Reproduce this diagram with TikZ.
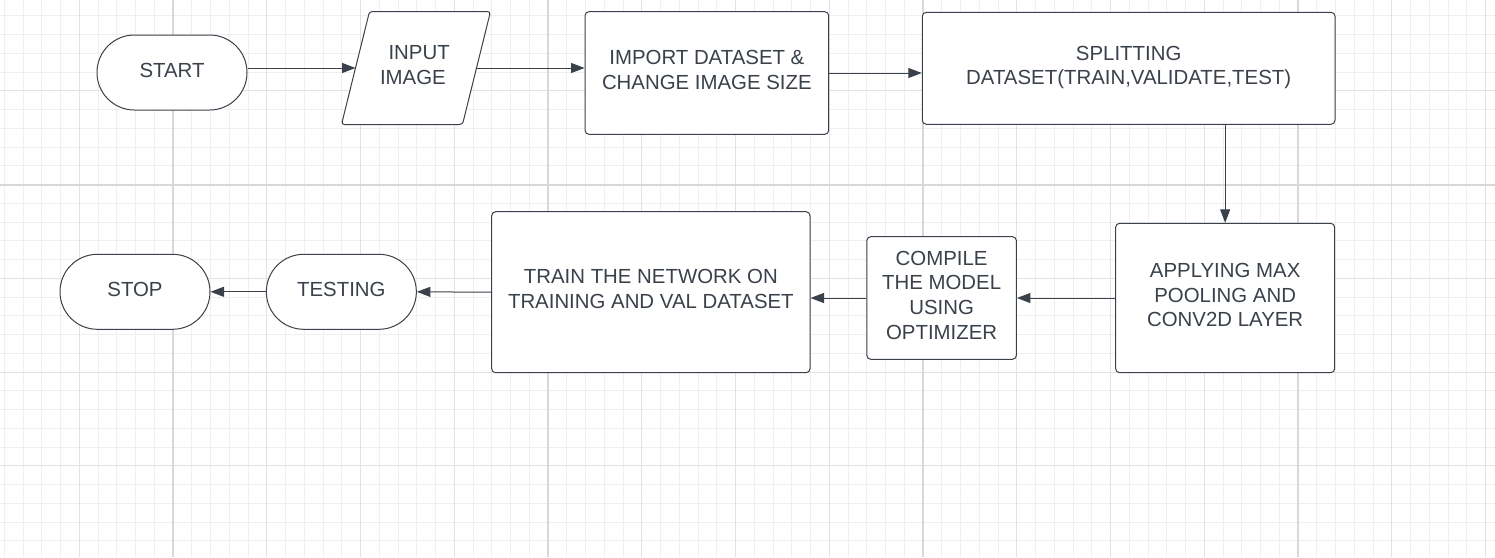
\documentclass[tikz,border=0pt]{standalone}
\usepackage{fontspec}
\setmainfont{Liberation Sans}
\usetikzlibrary{arrows.meta}
\definecolor{ink}{HTML}{3A414A}
\definecolor{gminor}{HTML}{EFEFEF}
\definecolor{gmed}{HTML}{E2E2E2}
\definecolor{gmajor}{HTML}{D8D8D8}
\tikzset{
  flow/.style={draw=ink, line width=1pt, text=ink, fill=white, inner sep=0pt,
    font=\fontsize{20.4}{24.7}\selectfont, align=center, text depth=6pt},
  boxnode/.style={flow, rectangle, rounded corners=4pt},
  term/.style={flow, rectangle, rounded corners=37.4pt, minimum width=150pt, minimum height=75pt, text depth=4.5pt},
  paratext/.style={flow, draw=none, fill=none, rectangle},
  paraedge/.style={draw=ink, line width=1pt, fill=white, rounded corners=3pt},
  conn/.style={draw=ink, line width=1pt, -{Triangle[length=13.5pt,width=10pt]}},
  gridminor/.style={draw=gminor, line width=1pt},
  gridmed/.style={draw=gmed, line width=1pt},
  gridmajor/.style={draw=gmajor, line width=1.6pt},
}
\begin{document}
\begin{tikzpicture}[x=1pt,y=-1pt]
\useasboundingbox (0,0) rectangle (1495,557);
\fill[white] (0,0) rectangle (1495,557);
% grid
\foreach \i in {0,...,79} \draw[gridminor] ({4.25+18.75*\i},0) -- ({4.25+18.75*\i},557);
\foreach \j in {0,...,30} \draw[gridminor] (0,{-2.8+18.75*\j}) -- (1495,{-2.8+18.75*\j});
\foreach \i in {0,...,15} \draw[gridmed] ({79.25+93.75*\i},0) -- ({79.25+93.75*\i},557);
\foreach \j in {1,...,5} \draw[gridmed] (0,{-2.8+93.75*\j}) -- (1495,{-2.8+93.75*\j});
\foreach \i in {0,...,3} \draw[gridmajor] ({173+375*\i},0) -- ({173+375*\i},557);
\draw[gridmajor] (0,184.7) -- (1495,184.7);
% nodes
\node[term] (start) at (172,72.5) {START};
% input parallelogram: frame from the anchors of its text node
\node[paratext, minimum width=148pt, minimum height=112pt] (input) at (416,68) {};
\draw[paraedge] (input.south west) -- ([xshift=28pt]input.north west)
  -- (input.north east) -- ([xshift=-28pt]input.south east) -- cycle;
\node[paratext] (inputtext) at (input.center)
  {\hspace*{6.25pt}INPUT\\IMAGE\hspace*{6.25pt}};
\coordinate (inputin) at ([xshift=14pt]input.west);
\coordinate (inputout) at ([xshift=-14pt]input.east);
\node[boxnode, minimum width=243.7pt, minimum height=122.6pt] (import) at (706.85,73)
  {IMPORT DATASET \&\\CHANGE IMAGE SIZE};
\node[boxnode, minimum width=412.7pt, minimum height=112pt] (split) at (1128.65,68.3)
  {SPLITTING\\DATASET(TRAIN,VALIDATE,TEST)};
\node[boxnode, minimum width=219pt, minimum height=149.4pt] (apply) at (1225.15,298)
  {APPLYING MAX\\POOLING AND\\CONV2D LAYER};
\node[boxnode, minimum width=149.6pt, minimum height=122.6pt] (compile) at (941.6,298)
  {COMPILE\\THE MODEL\\USING\\OPTIMIZER};
\node[boxnode, minimum width=318.3pt, minimum height=161pt] (train) at (650.85,292.2)
  {TRAIN THE NETWORK ON\\TRAINING AND VAL DATASET};
\node[term] (testing) at (341.35,291.8) {TESTING};
\node[term] (stop) at (135,291.8) {STOP};
% connectors
\draw[conn] (start.east |- inputin) -- (inputin);
\draw[conn] (inputout) -- (inputout -| import.west);
\draw[conn] (import.east) -- (import.east -| split.west);
\draw[conn] (split.south -| apply.north) -- (apply.north);
\draw[conn] (apply.west) -- (compile.east);
\draw[conn] (compile.west) -- (compile.west -| train.east);
\draw[conn] (train.west) -- (testing.east);
\draw[conn] (testing.west) -- (stop.east);
\end{tikzpicture}
\end{document}
